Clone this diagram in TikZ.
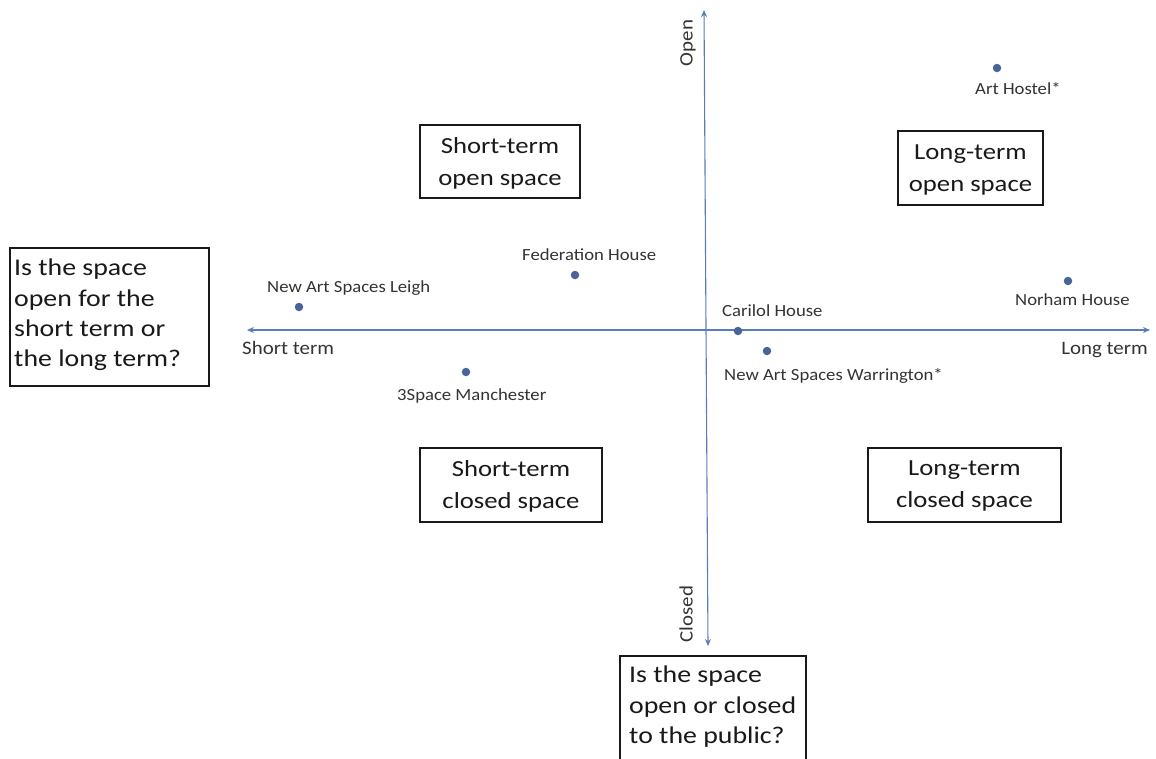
\documentclass[tikz,border=0pt]{standalone}
\usepackage{fontspec}
\setmainfont{Carlito}
\newfontfamily\smallf[FakeStretch=1.1]{Carlito}
\newfontfamily\bigf[FakeStretch=1.16]{Carlito}
\usetikzlibrary{arrows.meta}
\definecolor{axis}{HTML}{5A7DB8}
\definecolor{dotc}{HTML}{4A6399}
\tikzset{
  boxline/.style={draw=black!90, line width=1.1pt},
  qtext/.style={align=left, anchor=north west, font=\bigf\fontsize{24}{30.3}\selectfont, inner sep=0pt, text=black!90},
  quad/.style={align=center, font=\bigf\fontsize{23}{32}\selectfont, inner sep=0pt, text=black!90},
  lbl/.style={font=\smallf\fontsize{17}{18}\selectfont, text=black!80, inner sep=0pt, anchor=base west},
  axlbl/.style={font=\smallf\fontsize{19}{20}\selectfont, text=black!80, inner sep=0pt},
  pt/.style={circle, fill=dotc, minimum size=8.5pt, inner sep=0pt},
  axarrow/.style={draw=axis, line width=1.1pt, {Stealth[length=7pt,width=6pt]}-{Stealth[length=7pt,width=6pt]}}
}
\begin{document}
\begin{tikzpicture}[x=1pt,y=-1pt]
\useasboundingbox (0,0) rectangle (1156,758);
% axes
\coordinate (L) at (247,330);
\coordinate (R) at (1150,330);
\coordinate (T) at (704,10);
\coordinate (B) at (708,646);
\draw[axarrow] (L) -- (R);
\draw[axarrow] (B) -- (T);
\node[axlbl, rotate=90] (open) at (688,43) {Open};
\node[axlbl, rotate=90] (closed) at (686,614) {Closed};
\node[axlbl, anchor=base west] (st) at (242,354) {Short term};
\node[axlbl, anchor=base east] (lt) at (1148,354) {Long term};
% question boxes
\draw[boxline] (10,248) rectangle (209,386);
\node[qtext] (q1) at (14,259) {Is the space\\open for the\\short term or\\the long term?};
\draw[boxline] (620,656) rectangle (806,770);
\node[qtext] (q2) at (629,666) {Is the space\\open or closed\\to the public?};
% quadrant boxes
\draw[boxline] (420,125) rectangle (580,198);
\node[quad] (so) at (500,163) {Short-term\\open space};
\draw[boxline] (898,131) rectangle (1043,205);
\node[quad] (lo) at (970.5,170) {Long-term\\open space};
\draw[boxline] (420,448) rectangle (602,522);
\node[quad] (sc) at (511,486) {Short-term\\closed space};
\draw[boxline] (868,448) rectangle (1061,522);
\node[quad] (lc) at (964.5,486) {Long-term\\closed space};
% points
\node[pt] (ah) at (997,68) {};
\node[lbl] (ahl) at (975,94) {Art Hostel*};
\node[pt] (fh) at (575,275) {};
\node[lbl] (fhl) at (522,260) {Federation House};
\node[pt] (nl) at (299,307) {};
\node[lbl] (nll) at (267,292) {New Art Spaces Leigh};
\node[pt] (ch) at (738,331) {};
\node[lbl] (chl) at (722,316) {Carilol House};
\node[pt] (nw) at (767,351) {};
\node[lbl] (nwl) at (724,380) {New Art Spaces Warrington*};
\node[pt] (sm) at (466,372) {};
\node[lbl] (sml) at (397,400) {3Space Manchester};
\node[pt] (nh) at (1068,281) {};
\node[lbl] (nhl) at (1015,305) {Norham House};
\end{tikzpicture}
\end{document}
